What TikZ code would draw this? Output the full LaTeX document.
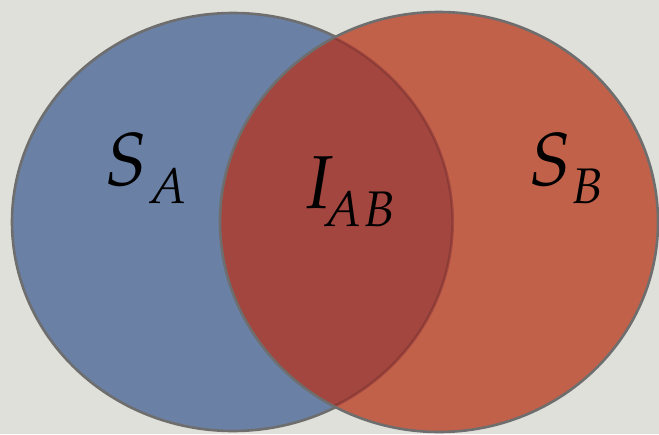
\documentclass[tikz,border=0pt]{standalone}
\usepackage{mathpazo}
\usepackage{tikz}
\usetikzlibrary{calc}

\definecolor{bgcol}{HTML}{DFE0DA}
\definecolor{setA}{HTML}{6A80A5}
\definecolor{setB}{HTML}{C1614A}
\definecolor{setAB}{HTML}{A2463F}
\definecolor{rim}{HTML}{6E6E6E}

\DeclareMathSizes{75}{75}{50}{38}
\newcommand{\lowsub}[1]{\raisebox{-7pt}{$\scriptstyle #1$}}

\tikzset{
    setlabel/.style={anchor=base west, inner sep=0pt, font=\fontsize{75}{80}\selectfont}
}

\begin{document}
\begin{tikzpicture}[x=1pt, y=-1pt]
        \fill[bgcol] (0,0) rectangle (659,434);
        \useasboundingbox (0,0) rectangle (659,434);
        
        \coordinate (A) at (233, 222);
        \coordinate (B) at (439, 222);
        
        % the two sets
        \filldraw[fill=setA, draw=rim, line width=2.6pt] (A) ellipse [x radius=221, y radius=209];
        \fill[setB] (B) ellipse [x radius=219, y radius=210];
        
        % intersection
        \begin{scope}
            \clip (A) ellipse [x radius=221, y radius=209];
            \fill[setAB] (B) ellipse [x radius=219, y radius=210];
            \clip (B) ellipse [x radius=218, y radius=209];
            \draw[setAB!85!black, line width=1.4pt] (A) ellipse [x radius=219, y radius=207];
        \end{scope}
        \draw[rim, line width=2.6pt] (B) ellipse [x radius=219, y radius=210];
        
        \node[setlabel] (sa) at (104, 185) {$S_{\lowsub{A}}$};
        \node[setlabel] (iab) at (302, 208) {$I_{\!\lowsub{AB}}$};
        \node[setlabel] (sb) at (528, 185) {$S_{\lowsub{B}}$};
    \end{tikzpicture}
\end{document}
